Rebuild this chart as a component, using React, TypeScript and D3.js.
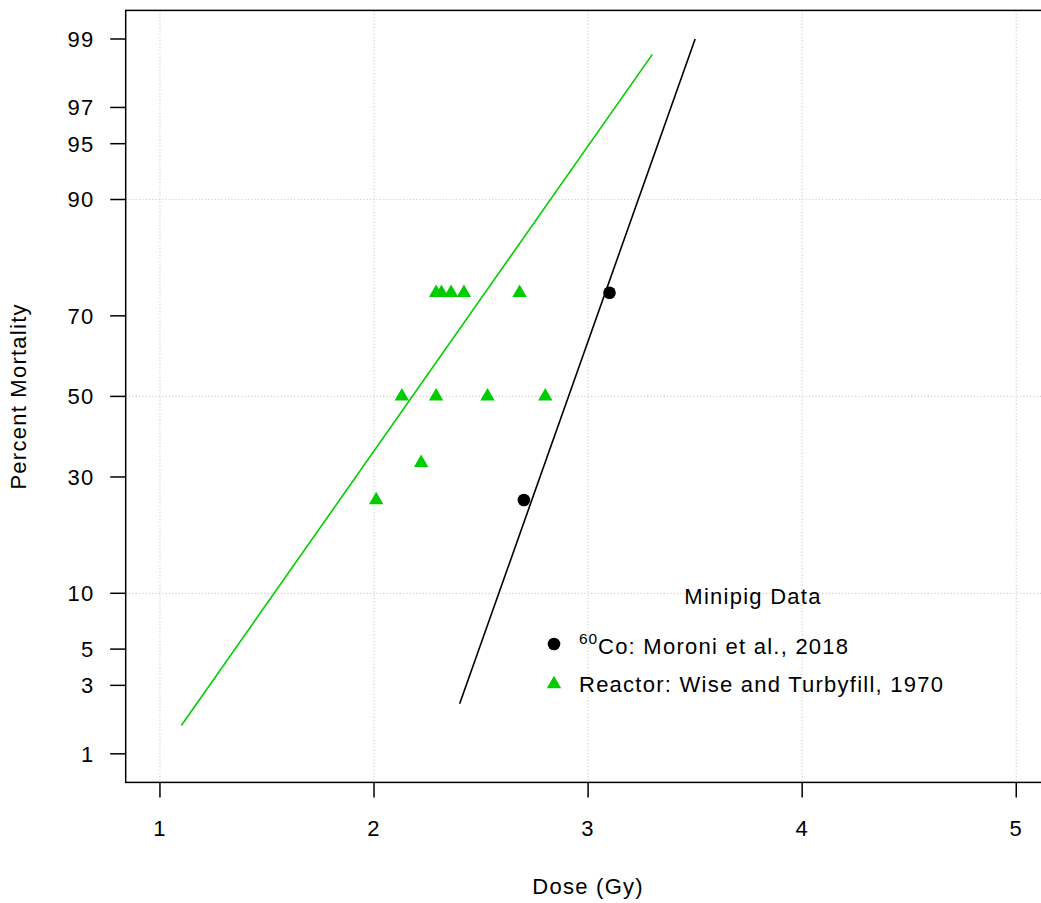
import React from "react";
import * as d3 from "d3";

// ---- data ----
const xTicks = [1, 2, 3, 4, 5];
const yTicks = [1, 3, 5, 10, 30, 50, 70, 90, 95, 97, 99];
const yGrid = [10, 50, 90];

const reactorDose = [2.01, 2.13, 2.22, 2.29, 2.29, 2.315, 2.36, 2.42, 2.53, 2.68, 2.8];
const reactorMort = [25, 50, 33.3, 50, 75, 75, 75, 75, 50, 75, 50];

const cobaltDose = [2.7, 3.1];
const cobaltMort = [25, 75];

const reactorFitDose = [1.1, 3.3];
const reactorFitMort = [1.61, 98.7];
const cobaltFitDose = [2.4, 3.5];
const cobaltFitMort = [2.27, 99];

const legendTitle = "Minipig Data";
const legendCobalt = "Co: Moroni et al., 2018";
const legendReactor = "Reactor: Wise and Turbyfill, 1970";

const GREEN = "#00CD00";

// inverse normal CDF (Acklam)
function qnorm(p: number): number {
  const a = [-3.969683028665376e1, 2.209460984245205e2, -2.759285104469687e2, 1.38357751867269e2, -3.066479806614716e1, 2.506628277459239];
  const b = [-5.447609879822406e1, 1.615858368580409e2, -1.556989798598866e2, 6.680131188771972e1, -1.328068155288572e1];
  const c = [-7.784894002430293e-3, -3.223964580411365e-1, -2.400758277161838, -2.549732539343734, 4.374664141464968, 2.938163982698783];
  const d = [7.784695709041462e-3, 3.224671290700398e-1, 2.445134137142996, 3.754408661907416];
  const pl = 0.02425;
  let q, r;
  if (p < pl) {
    q = Math.sqrt(-2 * Math.log(p));
    return (((((c[0] * q + c[1]) * q + c[2]) * q + c[3]) * q + c[4]) * q + c[5]) / ((((d[0] * q + d[1]) * q + d[2]) * q + d[3]) * q + 1);
  }
  if (p > 1 - pl) {
    q = Math.sqrt(-2 * Math.log(1 - p));
    return -(((((c[0] * q + c[1]) * q + c[2]) * q + c[3]) * q + c[4]) * q + c[5]) / ((((d[0] * q + d[1]) * q + d[2]) * q + d[3]) * q + 1);
  }
  q = p - 0.5;
  r = q * q;
  return ((((((a[0] * r + a[1]) * r + a[2]) * r + a[3]) * r + a[4]) * r + a[5]) * q) / (((((b[0] * r + b[1]) * r + b[2]) * r + b[3]) * r + b[4]) * r + 1);
}

const W = 1041;
const H = 903;
const left = 125.7;
const right = 1050.5;
const top = 10.4;
const bottom = 782.4;

const zMax = qnorm(0.99) * 1.08;
const x = d3.scaleLinear().domain([0.84, 5.16]).range([left, right]);
const yz = d3.scaleLinear().domain([-zMax, zMax]).range([bottom, top]);
const y = (pct: number) => yz(qnorm(pct / 100));

const font = "'Liberation Sans', Arial, Helvetica, sans-serif";
const FS = 22;
const LS = "1.25px";

export default function App() {
  const line = d3
    .line<[number, number]>()
    .x((d) => x(d[0]))
    .y((d) => y(d[1]));
  const reactorFit = line(reactorFitDose.map((d, i) => [d, reactorFitMort[i]] as [number, number])) || "";
  const cobaltFit = line(cobaltFitDose.map((d, i) => [d, cobaltFitMort[i]] as [number, number])) || "";
  const tri = d3.symbol().type(d3.symbolTriangle).size(90)() || "";

  const textStyle = { fontFamily: font, fontSize: FS, letterSpacing: LS } as React.CSSProperties;

  const legX = 554;
  const legTextX = 579;

  return (
    <div style={{ position: "absolute", left: 0, top: 0, width: W, height: H, overflow: "hidden", background: "#fff" }}>
      <svg width={W} height={H} style={{ display: "block" }}>
        <rect x={0} y={0} width={W} height={H} fill="#fff" />
        {/* grid */}
        <g stroke="#D3D3D3" strokeWidth={1.2} strokeDasharray="1.3 2">
          {xTicks.map((t) => (
            <line key={"gx" + t} x1={x(t)} x2={x(t)} y1={top} y2={bottom} />
          ))}
          {yGrid.map((t) => (
            <line key={"gy" + t} x1={left} x2={right} y1={y(t)} y2={y(t)} />
          ))}
        </g>
        {/* fit lines */}
        <path d={reactorFit} fill="none" stroke={GREEN} strokeWidth={1.6} />
        <path d={cobaltFit} fill="none" stroke="#000" strokeWidth={1.6} />
        {/* points */}
        {reactorDose.map((d, i) => (
          <path key={"r" + i} d={tri} transform={`translate(${x(d)},${y(reactorMort[i])})`} fill={GREEN} />
        ))}
        {cobaltDose.map((d, i) => (
          <circle key={"c" + i} cx={x(d)} cy={y(cobaltMort[i])} r={6.3} fill="#000" />
        ))}
        {/* frame */}
        <rect x={left} y={top} width={right - left} height={bottom - top} fill="none" stroke="#000" strokeWidth={1.5} />
        {/* x axis */}
        {xTicks.map((t) => (
          <g key={"xt" + t}>
            <line x1={x(t)} x2={x(t)} y1={bottom} y2={bottom + 15} stroke="#000" strokeWidth={1.5} />
            <text x={x(t)} y={836} textAnchor="middle" style={textStyle}>
              {t}
            </text>
          </g>
        ))}
        {/* y axis */}
        {yTicks.map((t) => (
          <g key={"yt" + t}>
            <line x1={left - 15.5} x2={left} y1={y(t)} y2={y(t)} stroke="#000" strokeWidth={1.5} />
            <text x={94.5} y={y(t) + 7.9} textAnchor="end" style={textStyle}>
              {t}
            </text>
          </g>
        ))}
        {/* axis titles */}
        <text x={(left + right) / 2} y={894} textAnchor="middle" style={textStyle}>
          Dose (Gy)
        </text>
        <text transform={`translate(26,${(top + bottom) / 2}) rotate(-90)`} textAnchor="middle" style={textStyle}>
          Percent Mortality
        </text>
        {/* legend */}
        <text x={753} y={604} textAnchor="middle" style={textStyle}>
          {legendTitle}
        </text>
        <circle cx={legX} cy={644} r={6.3} fill="#000" />
        <text x={legTextX} y={644} style={{ ...textStyle, fontSize: 15.5, letterSpacing: "1px" }}>
          60
        </text>
        <text x={598} y={653.5} style={textStyle}>
          {legendCobalt}
        </text>
        <path d={tri} transform={`translate(${legX},684)`} fill={GREEN} />
        <text x={legTextX} y={692} style={textStyle}>
          {legendReactor}
        </text>
      </svg>
    </div>
  );
}
